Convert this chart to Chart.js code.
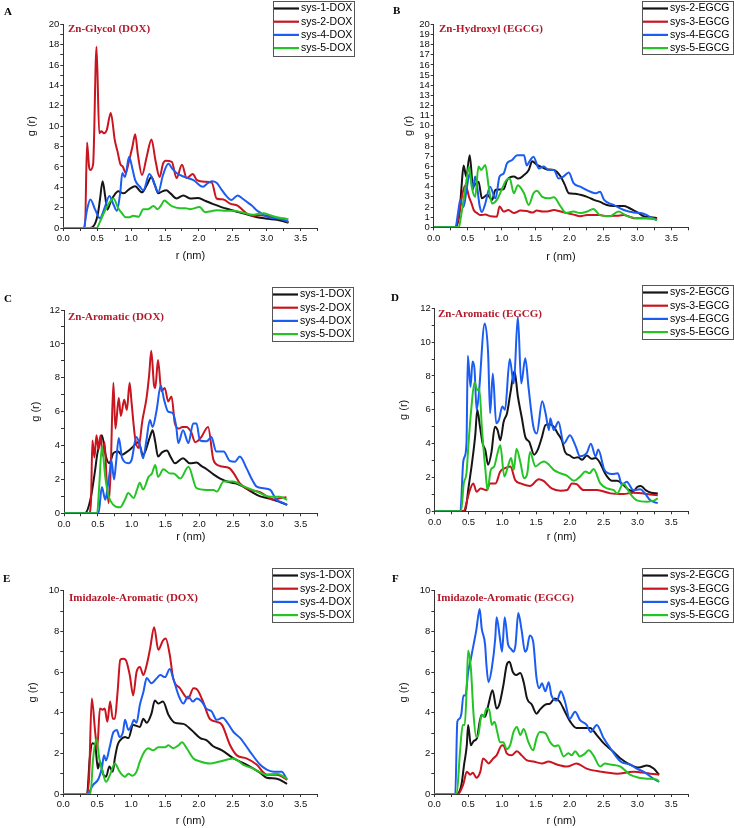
<!DOCTYPE html>
<html>
<head>
<meta charset="utf-8">
<title>RDF panels</title>
<script src="https://cdn.jsdelivr.net/npm/chart.js@4.4.1/dist/chart.umd.min.js"></script>
<style>
  html, body { margin: 0; padding: 0; background: #fff; }
  #stage { position: relative; width: 734px; height: 828px; overflow: hidden; }
  #stage canvas { position: absolute; }
</style>
</head>
<body>
<div id="stage"></div>
<script>
'use strict';

// ---- data (r in nm, g(r)) ----
var doxLabels = ['sys-1-DOX', 'sys-2-DOX', 'sys-4-DOX', 'sys-5-DOX'];
var egcgLabels = ['sys-2-EGCG', 'sys-3-EGCG', 'sys-4-EGCG', 'sys-5-EGCG'];
var panelTitles = ['Zn-Glycol (DOX)', 'Zn-Hydroxyl (EGCG)', 'Zn-Aromatic (DOX)', 'Zn-Aromatic (EGCG)',
    'Imidazole-Aromatic (DOX)', 'Imidazole-Aromatic (EGCG)'];
var xTicks = [0, 0.5, 1.0, 1.5, 2.0, 2.5, 3.0, 3.5];

// A: Zn-Glycol (DOX)
var aSys1 = [[0,0],[0.39,0],[0.47,0.45],[0.51,1.4],[0.54,2.75],[0.58,4.6],[0.62,3.0],[0.65,1.8],[0.70,2.6],[0.74,3.1],[0.81,3.6],[0.89,3.4],[0.97,3.8],[1.06,4.1],[1.16,3.5],[1.23,4.2],[1.30,5.0],[1.35,4.2],[1.40,3.4],[1.46,3.6],[1.52,3.7],[1.58,3.4],[1.67,2.9],[1.77,3.2],[1.87,2.9],[1.99,2.95],[2.10,2.65],[2.21,2.35],[2.33,2.05],[2.46,1.8],[2.56,1.6],[2.65,1.45],[2.78,1.2],[2.90,1.0],[3.02,0.9],[3.15,0.8],[3.25,0.65],[3.32,0.5]];
var aSys2 = [[0,0],[0.32,0],[0.35,8.4],[0.38,6.0],[0.40,5.7],[0.44,6.3],[0.49,17.8],[0.53,9.3],[0.56,9.5],[0.60,9.3],[0.64,9.6],[0.70,11.3],[0.76,8.6],[0.80,7.5],[0.84,6.3],[0.88,6.0],[0.92,5.4],[0.97,6.6],[1.02,8.0],[1.06,9.2],[1.10,7.2],[1.16,5.2],[1.23,7.0],[1.30,8.7],[1.36,6.6],[1.42,5.0],[1.47,6.3],[1.51,6.6],[1.60,6.5],[1.67,4.9],[1.75,6.2],[1.82,4.9],[1.91,5.3],[1.97,4.7],[2.09,4.55],[2.19,4.45],[2.26,2.9],[2.36,2.8],[2.46,2.4],[2.57,2.2],[2.64,1.8],[2.70,1.45],[2.80,1.2],[2.90,1.25],[3.0,1.2],[3.15,0.95],[3.25,0.8],[3.32,0.6]];
var aSys4 = [[0,0],[0.30,0],[0.35,1.8],[0.40,2.8],[0.47,1.8],[0.54,0.95],[0.61,2.0],[0.68,3.15],[0.74,2.3],[0.79,1.7],[0.84,3.5],[0.87,5.4],[0.91,5.0],[0.97,7.0],[1.02,5.8],[1.06,4.7],[1.13,4.05],[1.18,3.7],[1.27,5.3],[1.34,4.4],[1.40,3.5],[1.47,5.2],[1.55,6.3],[1.61,5.8],[1.67,5.4],[1.79,5.0],[1.92,4.7],[2.06,4.05],[2.13,4.4],[2.19,4.6],[2.26,4.45],[2.33,3.8],[2.41,3.1],[2.48,2.75],[2.57,3.2],[2.64,2.9],[2.70,2.6],[2.78,2.2],[2.85,1.75],[2.93,1.4],[3.0,1.1],[3.15,0.95],[3.25,0.8],[3.32,0.6]];
var aSys5 = [[0,0],[0.49,0],[0.54,0.6],[0.58,1.2],[0.63,1.9],[0.68,2.5],[0.74,2.9],[0.81,1.95],[0.87,1.4],[0.92,1.05],[0.97,1.05],[1.03,1.2],[1.11,1.1],[1.18,1.85],[1.25,1.85],[1.33,2.15],[1.39,1.85],[1.44,2.2],[1.49,2.7],[1.55,2.4],[1.60,2.15],[1.72,1.95],[1.80,1.95],[1.87,1.85],[2.01,2.05],[2.09,1.55],[2.18,1.65],[2.26,1.75],[2.40,1.7],[2.51,1.7],[2.65,1.5],[2.80,1.3],[2.88,1.4],[2.95,1.45],[3.05,1.25],[3.15,1.05],[3.25,0.95],[3.32,0.85]];

// B: Zn-Hydroxyl (EGCG)
var bSys2 = [[0,0],[0.32,0],[0.38,1.4],[0.41,4.0],[0.44,6.1],[0.48,5.0],[0.53,7.1],[0.58,4.0],[0.62,4.3],[0.66,4.5],[0.71,2.85],[0.79,3.2],[0.86,2.7],[0.91,3.7],[1.03,3.75],[1.08,4.65],[1.18,5.0],[1.25,4.8],[1.33,5.15],[1.40,5.65],[1.45,6.5],[1.52,6.15],[1.60,5.9],[1.67,5.7],[1.77,5.65],[1.87,5.0],[1.93,4.2],[1.99,3.35],[2.08,3.3],[2.16,3.2],[2.26,3.0],[2.36,2.7],[2.45,2.5],[2.55,2.2],[2.65,2.1],[2.80,2.1],[2.88,1.9],[2.95,1.65],[3.02,1.4],[3.09,1.1],[3.20,1.0],[3.29,0.9]];
var bSys3 = [[0,0],[0.32,0],[0.36,0.8],[0.39,2.0],[0.43,3.5],[0.47,4.15],[0.52,3.0],[0.56,2.3],[0.59,1.7],[0.64,1.4],[0.69,1.2],[0.76,1.25],[0.83,1.1],[0.93,1.05],[0.97,2.05],[1.03,1.55],[1.10,1.7],[1.18,1.4],[1.28,1.65],[1.37,1.6],[1.45,1.45],[1.52,1.65],[1.60,1.55],[1.67,1.55],[1.77,1.7],[1.87,1.55],[1.96,1.4],[2.06,1.25],[2.16,1.1],[2.26,1.2],[2.36,1.2],[2.45,1.2],[2.55,1.1],[2.70,1.15],[2.80,1.2],[2.88,1.05],[2.95,0.9],[3.14,0.9],[3.29,0.8]];
var bSys4 = [[0,0],[0.32,0],[0.36,1.5],[0.39,2.7],[0.44,2.0],[0.49,4.0],[0.53,5.3],[0.58,3.7],[0.61,5.0],[0.68,2.0],[0.71,1.5],[0.76,2.35],[0.83,4.0],[0.91,2.85],[0.97,5.0],[1.03,5.3],[1.08,6.3],[1.15,6.6],[1.23,7.1],[1.33,7.1],[1.37,6.1],[1.42,6.6],[1.47,6.95],[1.55,5.8],[1.62,6.0],[1.69,5.65],[1.77,5.65],[1.84,4.8],[1.91,5.0],[1.99,5.4],[2.06,4.35],[2.16,4.0],[2.23,3.75],[2.31,3.5],[2.38,3.35],[2.45,3.5],[2.51,2.7],[2.65,2.2],[2.80,1.7],[2.95,1.45],[3.05,1.4],[3.14,1.2],[3.22,0.9],[3.29,0.7]];
var bSys5 = [[0,0],[0.37,0],[0.40,1.0],[0.44,2.7],[0.48,4.5],[0.52,6.0],[0.56,4.0],[0.61,3.0],[0.66,6.0],[0.70,5.65],[0.76,6.15],[0.81,4.0],[0.86,2.35],[0.93,2.7],[1.01,3.85],[1.07,4.65],[1.12,4.8],[1.18,3.35],[1.24,4.15],[1.33,3.35],[1.40,2.2],[1.47,3.35],[1.52,3.6],[1.60,3.0],[1.69,2.85],[1.77,2.95],[1.87,2.05],[1.95,1.4],[2.06,1.55],[2.16,1.4],[2.26,1.55],[2.35,1.8],[2.45,1.2],[2.60,1.1],[2.72,1.55],[2.85,1.1],[2.99,0.9],[3.19,0.9],[3.29,0.7]];

// C: Zn-Aromatic (DOX)
var cSys1 = [[0,0],[0.31,0],[0.39,0.8],[0.46,2.55],[0.49,3.45],[0.52,4.0],[0.56,4.6],[0.62,3.35],[0.67,2.95],[0.73,3.55],[0.80,3.65],[0.85,3.45],[0.92,3.6],[1.0,3.85],[1.10,4.2],[1.17,3.45],[1.27,4.5],[1.31,4.9],[1.35,4.2],[1.39,3.35],[1.45,3.6],[1.52,3.7],[1.58,3.3],[1.64,2.95],[1.76,3.25],[1.86,2.95],[1.96,3.0],[2.03,2.8],[2.11,2.6],[2.21,2.3],[2.31,2.05],[2.45,1.83],[2.55,1.75],[2.65,1.57],[2.78,1.25],[2.90,1.0],[3.0,0.9],[3.10,0.8],[3.20,0.65],[3.30,0.5]];
var cSys2 = [[0,0],[0.37,0],[0.40,0.8],[0.42,4.3],[0.45,3.3],[0.48,4.6],[0.51,3.8],[0.54,4.6],[0.57,3.4],[0.60,4.2],[0.63,2.0],[0.66,0.6],[0.69,2.5],[0.73,7.7],[0.76,5.0],[0.81,6.8],[0.84,5.75],[0.89,6.7],[0.93,6.1],[0.97,7.7],[1.0,6.5],[1.05,4.5],[1.10,3.85],[1.16,5.5],[1.22,6.8],[1.26,8.2],[1.29,9.6],[1.33,7.6],[1.35,7.4],[1.39,9.05],[1.44,7.2],[1.49,7.4],[1.54,6.6],[1.59,6.9],[1.64,5.3],[1.70,5.0],[1.75,5.1],[1.81,5.1],[1.88,4.8],[1.94,4.2],[2.03,4.5],[2.13,5.1],[2.21,3.15],[2.30,2.8],[2.36,2.75],[2.45,2.65],[2.52,2.3],[2.60,1.77],[2.75,1.38],[2.85,1.3],[2.92,1.2],[3.0,1.0],[3.10,0.8],[3.20,0.9],[3.29,0.95]];
var cSys4 = [[0,0],[0.51,0],[0.56,1.55],[0.61,0.8],[0.64,1.4],[0.68,2.55],[0.70,3.15],[0.74,2.0],[0.77,3.0],[0.81,4.45],[0.86,3.25],[0.95,2.95],[1.0,3.15],[1.07,4.5],[1.12,4.05],[1.17,3.25],[1.22,4.35],[1.27,5.5],[1.31,5.1],[1.37,6.1],[1.43,7.55],[1.48,6.7],[1.54,6.0],[1.61,5.9],[1.66,5.1],[1.69,4.15],[1.76,4.9],[1.84,4.15],[1.91,5.3],[1.96,5.3],[2.01,4.3],[2.11,4.25],[2.18,4.5],[2.25,3.65],[2.36,3.65],[2.45,3.1],[2.53,3.05],[2.60,3.35],[2.70,2.65],[2.78,2.0],[2.85,1.57],[2.95,1.48],[3.05,1.38],[3.14,0.8],[3.22,0.65],[3.30,0.5]];
var cSys5 = [[0,0],[0.49,0],[0.52,1.55],[0.56,3.95],[0.61,2.15],[0.66,1.0],[0.73,0.5],[0.83,0.35],[0.90,0.8],[0.95,1.2],[1.03,0.9],[1.08,1.4],[1.12,1.8],[1.17,1.4],[1.25,2.15],[1.30,2.35],[1.35,2.85],[1.39,2.15],[1.47,2.6],[1.57,2.35],[1.62,2.35],[1.72,2.05],[1.84,2.75],[1.96,1.48],[2.11,1.38],[2.21,1.38],[2.26,1.28],[2.36,1.87],[2.50,1.87],[2.65,1.6],[2.85,1.28],[3.05,0.98],[3.19,0.98],[3.30,0.8]];

// D: Zn-Aromatic (EGCG)
var dSys2 = [[0,0],[0.45,0],[0.50,1.4],[0.55,2.8],[0.60,4.5],[0.63,6.0],[0.67,5.0],[0.71,4.0],[0.75,3.6],[0.79,2.75],[0.84,3.5],[0.89,5.0],[0.93,4.8],[0.97,4.2],[1.02,5.3],[1.07,5.8],[1.12,7.0],[1.18,8.3],[1.23,6.8],[1.29,5.5],[1.34,4.4],[1.40,4.1],[1.47,3.35],[1.52,3.6],[1.58,4.3],[1.64,5.1],[1.70,5.15],[1.76,5.0],[1.82,4.6],[1.88,4.2],[1.93,3.5],[2.0,3.3],[2.06,3.15],[2.12,3.2],[2.18,3.05],[2.25,3.3],[2.32,3.1],[2.38,3.15],[2.44,2.9],[2.50,2.4],[2.56,2.0],[2.62,1.8],[2.70,1.8],[2.78,1.6],[2.86,1.3],[2.94,1.2],[3.0,1.45],[3.05,1.5],[3.12,1.25],[3.20,1.1],[3.30,1.05]];
var dSys3 = [[0,0],[0.43,0],[0.48,0.67],[0.52,1.25],[0.57,1.65],[0.62,1.15],[0.68,1.35],[0.77,1.25],[0.82,1.65],[0.90,1.65],[0.97,2.35],[1.04,2.55],[1.12,2.65],[1.19,1.85],[1.27,1.65],[1.41,1.5],[1.54,1.9],[1.61,1.8],[1.73,1.35],[1.86,1.22],[1.96,1.26],[2.03,1.65],[2.10,1.6],[2.20,1.26],[2.40,1.26],[2.60,1.06],[2.79,1.02],[2.94,1.1],[3.19,1.0],[3.30,0.95]];
var dSys4 = [[0,0],[0.38,0],[0.42,2.85],[0.44,3.2],[0.47,4.0],[0.49,9.2],[0.53,7.35],[0.56,8.85],[0.59,8.35],[0.62,6.0],[0.65,6.8],[0.74,11.1],[0.79,9.35],[0.82,5.8],[0.86,8.15],[0.91,5.2],[0.95,5.4],[1.0,6.2],[1.04,6.0],[1.11,9.0],[1.17,7.55],[1.23,11.5],[1.28,7.55],[1.34,9.05],[1.39,7.25],[1.46,5.0],[1.51,4.6],[1.59,6.5],[1.64,5.8],[1.69,4.8],[1.71,5.5],[1.76,4.8],[1.83,5.3],[1.91,4.0],[2.0,4.5],[2.08,3.9],[2.15,3.25],[2.25,3.45],[2.31,4.0],[2.38,3.25],[2.42,3.65],[2.51,2.45],[2.62,2.2],[2.71,2.25],[2.77,1.55],[2.84,1.75],[2.94,1.25],[3.04,1.3],[3.11,1.05],[3.19,0.65],[3.30,0.48]];
var dSys5 = [[0,0],[0.39,0],[0.43,1.65],[0.47,2.25],[0.50,4.0],[0.54,6.0],[0.59,7.65],[0.63,7.15],[0.66,7.25],[0.70,4.8],[0.75,2.45],[0.78,1.25],[0.83,2.45],[0.88,2.65],[0.93,3.45],[0.97,3.9],[1.03,2.05],[1.09,2.75],[1.13,3.15],[1.17,2.45],[1.21,3.7],[1.27,2.85],[1.32,1.95],[1.37,2.25],[1.41,3.5],[1.49,2.65],[1.56,2.85],[1.62,2.95],[1.69,2.75],[1.76,2.45],[1.86,2.25],[1.96,2.1],[2.06,1.8],[2.15,2.05],[2.23,2.35],[2.29,2.25],[2.35,2.5],[2.45,1.65],[2.55,1.35],[2.65,1.25],[2.70,1.05],[2.79,1.65],[2.89,1.05],[2.99,0.65],[3.14,0.57],[3.24,0.63],[3.30,0.77]];

// E: Imidazole-Aromatic (DOX)
var eSys1 = [[0,0],[0.35,0],[0.39,1.75],[0.43,2.5],[0.47,2.4],[0.51,1.25],[0.54,1.6],[0.59,0.95],[0.63,0.85],[0.68,1.35],[0.73,1.1],[0.76,1.75],[0.80,2.4],[0.84,2.65],[0.91,2.8],[0.96,2.75],[1.03,3.4],[1.13,3.3],[1.18,3.7],[1.23,3.5],[1.30,3.95],[1.35,4.6],[1.40,4.45],[1.47,4.55],[1.55,3.9],[1.65,3.5],[1.77,3.45],[1.89,3.15],[2.02,2.75],[2.11,2.65],[2.21,2.35],[2.34,2.15],[2.51,1.75],[2.70,1.45],[2.90,1.05],[3.0,0.8],[3.15,0.75],[3.30,0.5]];
var eSys2 = [[0,0],[0.35,0],[0.38,0.8],[0.42,4.7],[0.47,3.05],[0.50,2.25],[0.54,4.2],[0.58,4.15],[0.61,4.2],[0.65,3.55],[0.69,4.55],[0.73,3.7],[0.76,3.7],[0.80,5.0],[0.84,6.6],[0.88,6.65],[0.92,6.6],[0.98,5.85],[1.03,4.85],[1.08,6.0],[1.13,6.25],[1.18,5.85],[1.23,6.35],[1.28,7.15],[1.34,8.2],[1.40,7.1],[1.47,7.55],[1.51,7.65],[1.57,6.85],[1.62,5.7],[1.72,5.2],[1.84,4.7],[1.92,5.2],[1.97,5.15],[2.06,4.55],[2.16,3.7],[2.26,3.55],[2.34,3.4],[2.46,2.4],[2.56,1.9],[2.70,1.75],[2.85,1.45],[3.0,0.95],[3.15,0.95],[3.30,0.7]];
var eSys4 = [[0,0],[0.35,0],[0.44,0.45],[0.52,0.75],[0.57,1.3],[0.60,1.9],[0.63,1.65],[0.68,2.25],[0.74,3.05],[0.79,3.15],[0.83,2.8],[0.88,3.05],[0.91,3.65],[0.96,3.15],[1.01,3.4],[1.04,3.65],[1.08,3.5],[1.13,4.4],[1.18,5.0],[1.23,5.7],[1.30,5.45],[1.38,5.7],[1.43,5.85],[1.50,5.75],[1.57,6.15],[1.62,5.7],[1.70,4.85],[1.77,4.45],[1.84,4.8],[1.91,4.55],[1.97,4.7],[2.04,4.55],[2.11,4.2],[2.19,4.05],[2.26,3.65],[2.35,3.75],[2.41,3.55],[2.51,3.05],[2.61,2.75],[2.75,2.1],[2.90,1.45],[3.0,1.2],[3.10,1.1],[3.22,1.1],[3.30,0.7]];
var eSys5 = [[0,0],[0.40,0],[0.44,1.75],[0.49,2.7],[0.53,1.75],[0.58,1.1],[0.63,0.6],[0.69,0.95],[0.76,1.5],[0.83,1.1],[0.91,0.85],[0.96,1.0],[1.02,0.9],[1.08,1.1],[1.13,1.6],[1.20,2.1],[1.25,2.25],[1.33,2.15],[1.40,2.3],[1.50,2.3],[1.55,2.4],[1.62,2.25],[1.70,2.4],[1.75,2.55],[1.82,2.25],[1.92,1.75],[2.02,1.6],[2.16,1.5],[2.31,1.6],[2.51,1.75],[2.65,1.45],[2.80,1.25],[3.0,0.95],[3.15,1.0],[3.30,0.75]];

// F: Imidazole-Aromatic (EGCG)
var fSys2 = [[0,0],[0.33,0],[0.40,0.45],[0.44,1.45],[0.48,2.4],[0.50,3.4],[0.54,2.4],[0.58,2.6],[0.63,2.75],[0.67,3.55],[0.70,3.9],[0.75,3.8],[0.80,4.4],[0.86,5.1],[0.92,4.2],[0.96,4.4],[1.02,5.35],[1.07,6.35],[1.11,6.5],[1.16,6.0],[1.21,5.85],[1.27,5.95],[1.32,5.5],[1.37,4.7],[1.44,4.4],[1.51,3.95],[1.56,4.15],[1.64,4.4],[1.71,4.45],[1.78,4.7],[1.85,4.55],[1.93,4.05],[2.01,3.55],[2.10,3.25],[2.20,3.25],[2.30,3.25],[2.40,2.9],[2.50,2.5],[2.62,2.15],[2.75,1.75],[2.89,1.45],[3.02,1.3],[3.14,1.4],[3.24,1.25],[3.32,0.95]];
var fSys3 = [[0,0],[0.35,0],[0.43,0.5],[0.48,1.1],[0.53,0.95],[0.57,1.05],[0.62,0.8],[0.68,1.1],[0.72,1.75],[0.76,1.65],[0.80,1.5],[0.87,1.75],[0.92,1.9],[1.0,2.4],[1.03,2.35],[1.07,2.0],[1.14,1.9],[1.22,2.1],[1.29,1.9],[1.37,1.65],[1.46,1.6],[1.59,1.5],[1.69,1.6],[1.81,1.45],[1.96,1.35],[2.10,1.5],[2.25,1.25],[2.45,1.1],[2.70,1.0],[2.94,1.1],[3.19,1.0],[3.32,0.95]];
var fSys4 = [[0,0],[0.31,0],[0.34,3.55],[0.37,3.7],[0.40,3.95],[0.43,4.85],[0.46,4.85],[0.50,6.0],[0.54,6.65],[0.58,7.35],[0.62,8.05],[0.67,9.1],[0.70,8.15],[0.75,7.35],[0.77,6.35],[0.80,5.5],[0.85,6.2],[0.90,7.65],[0.92,8.7],[0.97,7.65],[1.0,7.0],[1.04,8.7],[1.09,7.35],[1.13,7.15],[1.17,7.0],[1.20,7.35],[1.24,8.9],[1.29,8.05],[1.34,7.0],[1.37,7.15],[1.41,7.8],[1.46,7.5],[1.51,5.7],[1.55,5.2],[1.59,5.45],[1.64,5.05],[1.69,5.5],[1.73,4.85],[1.81,4.6],[1.87,5.05],[1.93,4.55],[2.0,3.7],[2.08,4.05],[2.15,3.65],[2.25,3.4],[2.31,3.05],[2.40,3.4],[2.50,2.75],[2.60,2.25],[2.75,1.6],[2.89,1.45],[2.99,1.25],[3.09,1.1],[3.24,0.75],[3.32,0.6]];
var fSys5 = [[0,0],[0.33,0],[0.38,2.1],[0.42,3.4],[0.45,3.4],[0.48,5.35],[0.50,7.05],[0.54,6.2],[0.58,3.9],[0.62,2.8],[0.65,2.9],[0.70,3.9],[0.73,3.8],[0.77,4.2],[0.81,4.15],[0.85,3.4],[0.89,3.55],[0.93,3.05],[0.97,2.55],[1.02,2.55],[1.07,2.2],[1.12,2.4],[1.17,3.05],[1.22,3.3],[1.27,2.9],[1.32,3.2],[1.39,2.55],[1.46,2.15],[1.51,2.75],[1.56,3.05],[1.64,3.0],[1.71,2.55],[1.78,2.35],[1.83,2.4],[1.91,1.85],[1.98,2.0],[2.03,1.9],[2.08,2.1],[2.15,1.85],[2.23,2.0],[2.28,2.15],[2.35,1.9],[2.45,1.35],[2.52,1.5],[2.60,1.45],[2.75,1.35],[2.89,0.95],[3.02,0.8],[3.14,0.75],[3.29,0.7],[3.32,0.6]];

var lineColors = ['#151515', '#c8151f', '#1b5cf2', '#25c425'];
var titleColor = '#b3192b';

// page layout of each panel (pixels); area = plot box, legend = legend box
var panels = [
    { letter: 'A', title: panelTitles[0], labels: doxLabels, series: [aSys1, aSys2, aSys4, aSys5],
      left: 0, top: 0, w: 367, h: 265, area: { l: 63.3, r: 317.6, t: 24.3, b: 228 }, yMax: 20, yLabelEvery: 2,
      legend: { x: 273, y: 1, w: 81, h: 55 }, letterPos: [4, 12], titlePos: [68, 29], xTitleY: 256, yTitleX: 32 },
    { letter: 'B', title: panelTitles[1], labels: egcgLabels, series: [bSys2, bSys3, bSys4, bSys5],
      left: 367, top: 0, w: 367, h: 265, area: { l: 433.7, r: 688.3, t: 24.3, b: 227.3 }, yMax: 20, yLabelEvery: 1,
      legend: { x: 642, y: 1, w: 91, h: 53 }, letterPos: [393, 11], titlePos: [439, 29], xTitleY: 257, yTitleX: 409 },
    { letter: 'C', title: panelTitles[2], labels: doxLabels, series: [cSys1, cSys2, cSys4, cSys5],
      left: 0, top: 270, w: 367, h: 275, area: { l: 64, r: 317.6, t: 310, b: 513.3 }, yMax: 12, yLabelEvery: 2,
      legend: { x: 272, y: 287, w: 81, h: 54 }, letterPos: [4, 299], titlePos: [68, 317], xTitleY: 537, yTitleX: 36 },
    { letter: 'D', title: panelTitles[3], labels: egcgLabels, series: [dSys2, dSys3, dSys4, dSys5],
      left: 367, top: 270, w: 367, h: 275, area: { l: 434.7, r: 688.2, t: 308.3, b: 511.3 }, yMax: 12, yLabelEvery: 2,
      legend: { x: 642, y: 285, w: 91, h: 54 }, letterPos: [391, 298], titlePos: [438, 314], xTitleY: 537, yTitleX: 404 },
    { letter: 'E', title: panelTitles[4], labels: doxLabels, series: [eSys1, eSys2, eSys4, eSys5],
      left: 0, top: 545, w: 367, h: 283, area: { l: 63.3, r: 317.6, t: 590.7, b: 794 }, yMax: 10, yLabelEvery: 2,
      legend: { x: 272, y: 568, w: 81, h: 54 }, letterPos: [3, 579], titlePos: [69, 598], xTitleY: 821, yTitleX: 33 },
    { letter: 'F', title: panelTitles[5], labels: egcgLabels, series: [fSys2, fSys3, fSys4, fSys5],
      left: 367, top: 545, w: 367, h: 283, area: { l: 434.3, r: 688.2, t: 590.7, b: 794 }, yMax: 10, yLabelEvery: 2,
      legend: { x: 642, y: 568, w: 91, h: 54 }, letterPos: [392, 579], titlePos: [437, 598], xTitleY: 821, yTitleX: 404 }
];

Chart.defaults.font.family = '"Liberation Sans", Arial, sans-serif';
Chart.defaults.color = '#111';

var toXY = function(pts) {
    return pts.map(function(p) { return { x: p[0], y: p[1] }; });
};

// panel letter, red inset title and boxed legend
var makeDecor = function(p) {
    return {
        id: 'decor' + p.letter,
        afterDraw: function(chart) {
            var ctx = chart.ctx;
            ctx.save();
            ctx.textBaseline = 'middle';
            ctx.textAlign = 'left';
            ctx.fillStyle = '#000';
            ctx.font = 'bold 11px "Liberation Serif", serif';
            ctx.fillText(p.letter, p.letterPos[0] - p.left, p.letterPos[1] - p.top);

            ctx.fillStyle = titleColor;
            ctx.font = 'bold 11px "Liberation Serif", serif';
            ctx.fillText(p.title, p.titlePos[0] - p.left, p.titlePos[1] - p.top);

            var lx = p.legend.x - p.left, ly = p.legend.y - p.top;
            ctx.fillStyle = '#fff';
            ctx.fillRect(lx, ly, p.legend.w, p.legend.h);
            ctx.strokeStyle = '#555';
            ctx.lineWidth = 1;
            ctx.strokeRect(lx + 0.5, ly + 0.5, p.legend.w, p.legend.h);
            ctx.font = '10.5px "Liberation Sans", Arial, sans-serif';
            chart.data.datasets.forEach(function(ds, i) {
                var y = ly + 7.5 + i * 13.2;
                ctx.strokeStyle = ds.borderColor;
                ctx.lineWidth = 2.2;
                ctx.beginPath();
                ctx.moveTo(lx + 1, y);
                ctx.lineTo(lx + 26, y);
                ctx.stroke();
                ctx.fillStyle = '#000';
                ctx.fillText(ds.label, lx + 28, y);
            });
            ctx.restore();
        }
    };
};

var stage = document.getElementById('stage');

panels.forEach(function(p) {
    var canvas = document.createElement('canvas');
    canvas.width = p.w;
    canvas.height = p.h;
    canvas.style.left = p.left + 'px';
    canvas.style.top = p.top + 'px';
    stage.appendChild(canvas);

    var a = { l: p.area.l - p.left, r: p.area.r - p.left, t: p.area.t - p.top, b: p.area.b - p.top };
    var titleFont = { size: 11 };
    var half = 11 * 1.2 / 2;

    var datasets = p.series.map(function(pts, i) {
        return {
            label: p.labels[i],
            data: toXY(pts),
            borderColor: lineColors[i],
            borderWidth: 2,
            pointRadius: 0,
            cubicInterpolationMode: 'monotone',
            order: 4 - i
        };
    });

    new Chart(canvas, {
        type: 'line',
        data: { datasets: datasets },
        options: {
            responsive: false,
            animation: false,
            events: [],
            layout: { padding: { left: 0, top: a.t, right: p.w - a.r, bottom: 0 } },
            plugins: { legend: { display: false }, tooltip: { enabled: false } },
            scales: {
                x: {
                    type: 'linear',
                    min: 0,
                    max: 3.75,
                    afterFit: function(s) { s.height = p.h - a.b; },
                    grid: { display: true, drawOnChartArea: false, drawTicks: true, tickLength: 3, color: '#333' },
                    border: { display: true, color: '#333', width: 1 },
                    ticks: {
                        stepSize: 0.25,
                        includeBounds: false,
                        autoSkip: false,
                        maxRotation: 0,
                        padding: 2,
                        font: { size: 9.5 },
                        callback: function(v) {
                            var hit = xTicks.filter(function(t) { return Math.abs(t - v) < 1e-6; });
                            return hit.length ? hit[0].toFixed(1) : '';
                        }
                    },
                    title: { display: true, text: 'r (nm)', font: titleFont,
                        padding: { top: 0, bottom: Math.max(0, p.top + p.h - half - p.xTitleY) } }
                },
                y: {
                    min: 0,
                    max: p.yMax,
                    afterFit: function(s) { s.width = a.l; },
                    grid: { display: true, drawOnChartArea: false, drawTicks: true, tickLength: 3, color: '#333' },
                    border: { display: true, color: '#333', width: 1 },
                    ticks: {
                        stepSize: 1,
                        autoSkip: false,
                        padding: 1,
                        font: { size: 9.5 },
                        callback: function(v) { return v % p.yLabelEvery === 0 ? String(v) : ''; }
                    },
                    title: { display: true, text: 'g (r)', font: titleFont,
                        padding: { top: p.yTitleX - p.left - half, bottom: 0 } }
                }
            }
        },
        plugins: [makeDecor(p)]
    });
});
</script>
</body>
</html>
